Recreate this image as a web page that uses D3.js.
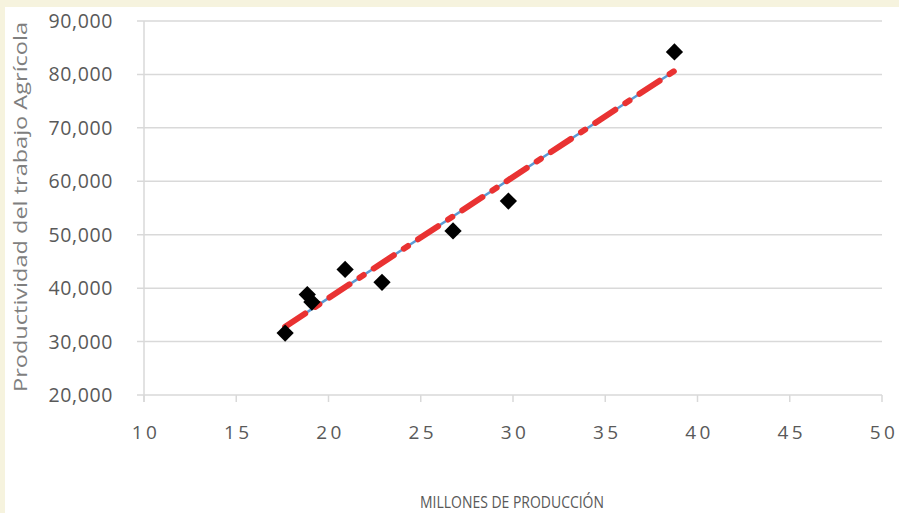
<!DOCTYPE html>
<html>
<head>
<meta charset="utf-8">
<script src="https://cdn.jsdelivr.net/npm/d3@7"></script>
<style>
  body { margin: 0; background: #f6f3de; }
  svg { display: block; font-family: "Open Sans", "Noto Sans", sans-serif; }
</style>
</head>
<body>
<svg width="899" height="513"></svg>
<script>
// datos
const produccion = [17.65, 18.85, 19.1, 20.9, 22.9, 26.75, 29.75, 38.75];
const productividad = [31600, 38800, 37400, 43500, 41100, 50700, 56300, 84200];
const xTicks = [10, 15, 20, 25, 30, 35, 40, 45, 50];
const yTicks = [20000, 30000, 40000, 50000, 60000, 70000, 80000, 90000];

const svg = d3.select("svg"),
      width = +svg.attr("width"),
      height = +svg.attr("height");

// fondo blanco del área de gráfico
svg.append("rect")
    .attr("x", 5).attr("y", 7)
    .attr("width", width - 5).attr("height", height - 7)
    .attr("fill", "#fff");

const x = d3.scaleLinear().domain([10, 50]).range([144, 882]);
const y = d3.scaleLinear().domain([20000, 90000]).range([395, 21]);

// líneas de división horizontales
svg.append("g")
    .selectAll("line")
    .data(yTicks)
    .enter().append("line")
    .attr("x1", 137).attr("x2", x(50))
    .attr("y1", d => y(d)).attr("y2", d => y(d))
    .attr("stroke", "#d9d9d9")
    .attr("stroke-width", 1.5);

// eje vertical
svg.append("line")
    .attr("x1", x(10)).attr("x2", x(10))
    .attr("y1", y(90000)).attr("y2", y(20000) + 7)
    .attr("stroke", "#d9d9d9").attr("stroke-width", 1.5);

// marcas del eje X
svg.append("g")
    .selectAll("line")
    .data(xTicks)
    .enter().append("line")
    .attr("x1", d => x(d)).attr("x2", d => x(d))
    .attr("y1", y(20000)).attr("y2", y(20000) + 7)
    .attr("stroke", "#d9d9d9").attr("stroke-width", 1.5);

// etiquetas eje Y
const fmt = d3.format(",");
svg.append("g")
    .selectAll("text")
    .data(yTicks)
    .enter().append("text")
    .attr("x", 113)
    .attr("y", d => y(d))
    .attr("dy", "0.36em")
    .attr("text-anchor", "end")
    .attr("fill", "#595959")
    .style("font-size", "19.5px")
    .style("letter-spacing", "0.6px")
    .text(d => fmt(d));

// etiquetas eje X
svg.append("g")
    .selectAll("text")
    .data(xTicks)
    .enter().append("text")
    .attr("x", d => x(d) + 2)
    .attr("y", 439)
    .attr("text-anchor", "middle")
    .attr("fill", "#595959")
    .style("font-size", "19px")
    .style("letter-spacing", "3.5px")
    .text(d => d);

// títulos
svg.append("text")
    .attr("transform", "translate(27,207) rotate(-90)")
    .attr("text-anchor", "middle")
    .attr("fill", "#7f7f7f")
    .attr("textLength", 370)
    .attr("lengthAdjust", "spacingAndGlyphs")
    .style("font-size", "19px")
    .text("Productividad del trabajo Agrícola");

svg.append("text")
    .attr("x", 512)
    .attr("y", 508)
    .attr("text-anchor", "middle")
    .attr("fill", "#595959")
    .attr("textLength", 184)
    .attr("lengthAdjust", "spacingAndGlyphs")
    .style("font-size", "16.5px")
    .text("MILLONES DE PRODUCCIÓN");

// recta de regresión (mínimos cuadrados)
const mx = d3.mean(produccion), my = d3.mean(productividad);
const sxy = d3.sum(produccion, (v, i) => (v - mx) * (productividad[i] - my));
const sxx = d3.sum(produccion, v => (v - mx) * (v - mx));
const pendiente = sxy / sxx, intercepto = my - pendiente * mx;
const xmin = d3.min(produccion), xmax = d3.max(produccion);
const tendencia = [xmin, xmax].map(v => [v, intercepto + pendiente * v]);

const linea = d3.line().x(d => x(d[0])).y(d => y(d[1]));

svg.append("path")
    .datum(tendencia)
    .attr("d", linea)
    .attr("fill", "none")
    .attr("stroke", "#5b9bd5")
    .attr("stroke-width", 2.5);

svg.append("path")
    .datum(tendencia)
    .attr("d", linea)
    .attr("fill", "none")
    .attr("stroke", "#e93232")
    .attr("stroke-width", 6)
    .attr("stroke-linecap", "round")
    .attr("stroke-dasharray", "24,12,5,12");

// puntos (rombos)
const rombo = d3.symbol().type(d3.symbolDiamond2).size(190);
svg.append("g")
    .selectAll("path")
    .data(produccion.map((v, i) => [v, productividad[i]]))
    .enter().append("path")
    .attr("transform", d => "translate(" + x(d[0]) + "," + y(d[1]) + ")")
    .attr("d", rombo)
    .attr("fill", "#000");
</script>
</body>
</html>
